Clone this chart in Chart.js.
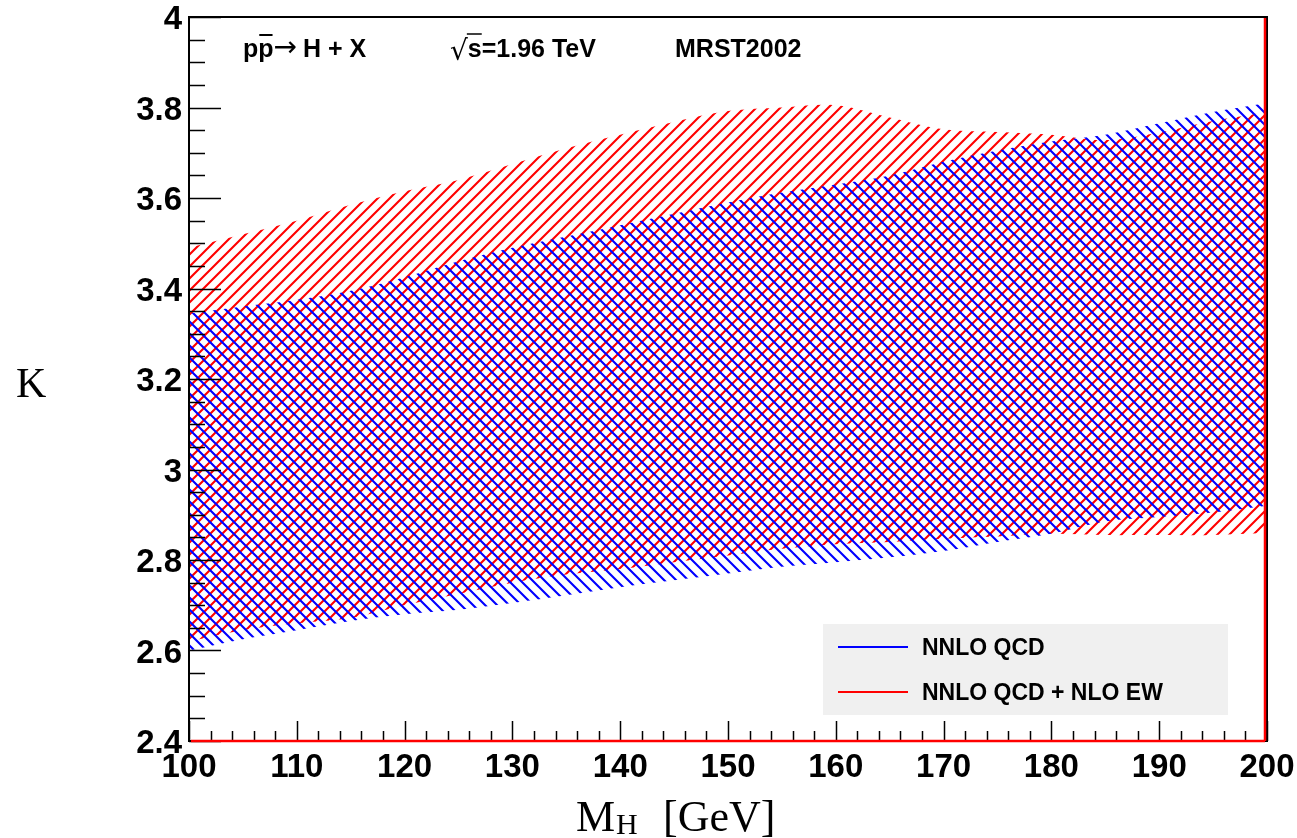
<!DOCTYPE html>
<html>
<head>
<meta charset="utf-8">
<script src="https://cdn.jsdelivr.net/npm/chart.js@4.4.1/dist/chart.umd.min.js"></script>
<style>
    body { margin: 0; background: #fff; }
    #wrap { width: 1297px; height: 838px; }
</style>
</head>
<body>
<div id="wrap"><canvas id="kFactorChart" width="1297" height="838"></canvas></div>
<script>
// K-factor bands, Tevatron
const massValues = [100, 105, 110, 115, 120, 125, 130, 135, 140, 145, 150,
    155, 160, 165, 170, 175, 180, 185, 190, 195, 200]

// NNLO QCD band (blue)
const qcdLow = [2.60, 2.625, 2.645, 2.665, 2.68, 2.69, 2.705, 2.722, 2.74, 2.755, 2.77,
    2.785, 2.795, 2.806, 2.82, 2.84, 2.858, 2.885, 2.895, 2.905, 2.92]
const qcdHigh = [3.345, 3.36, 3.375, 3.395, 3.425, 3.46, 3.49, 3.515, 3.54, 3.565, 3.59,
    3.612, 3.63, 3.65, 3.68, 3.705, 3.725, 3.74, 3.765, 3.79, 3.81]

// NNLO QCD + NLO EW band (red)
const ewLow = [2.62, 2.645, 2.66, 2.672, 2.70, 2.725, 2.75, 2.768, 2.78, 2.795, 2.81,
    2.825, 2.835, 2.84, 2.847, 2.852, 2.858, 2.855, 2.855, 2.855, 2.86]
const ewHigh = [3.49, 3.52, 3.55, 3.585, 3.615, 3.64, 3.675, 3.71, 3.74, 3.768, 3.792,
    3.80, 3.805, 3.778, 3.752, 3.746, 3.74, 3.728, 3.745, 3.77, 3.79]

const seriesNames = ['NNLO QCD', 'NNLO QCD + NLO EW']
const xTickValues = [100, 110, 120, 130, 140, 150, 160, 170, 180, 190, 200]
const yTickValues = [2.4, 2.6, 2.8, 3.0, 3.2, 3.4, 3.6, 3.8, 4.0]

const BOLD = 'bold {s}px "Liberation Sans", Arial, sans-serif'
const font = (s) => BOLD.replace('{s}', s)

function toPoints(ys) {
    return massValues.map((x, i) => ({ x: x, y: ys[i] }))
}

// hatch pattern, dir 1 = "/" , dir -1 = "\"
function hatch(color, dir) {
    const s = 12
    const c = document.createElement('canvas')
    c.width = s
    c.height = s
    const g = c.getContext('2d')
    g.strokeStyle = color
    g.lineWidth = 2.1
    g.beginPath()
    if (dir > 0) {
        g.moveTo(-2, s + 2); g.lineTo(s + 2, -2)
        g.moveTo(-2, 2); g.lineTo(2, -2)
        g.moveTo(s - 2, s + 2); g.lineTo(s + 2, s - 2)
    } else {
        g.moveTo(-2, -2); g.lineTo(s + 2, s + 2)
        g.moveTo(-2, s - 2); g.lineTo(2, s + 2)
        g.moveTo(s - 2, -2); g.lineTo(s + 2, 2)
    }
    g.stroke()
    return g.createPattern(c, 'repeat')
}

const blueHatch = hatch('#0000ff', -1)
const redHatch = hatch('#ff0000', 1)

function edge(label, ys, fill, bg) {
    return {
        label: label,
        data: toPoints(ys),
        borderWidth: 0,
        borderColor: 'rgba(0,0,0,0)',
        backgroundColor: bg || 'rgba(0,0,0,0)',
        pointRadius: 0,
        tension: 0.35,
        fill: fill
    }
}

// frame, inside ticks, texts and legend in ROOT style
const rootDecor = {
    id: 'rootDecor',
    afterDraw(chart) {
        const ctx = chart.ctx
        const { left, right, top, bottom } = chart.chartArea
        const xs = chart.scales.x
        const ys = chart.scales.y
        ctx.save()

        // frame
        ctx.strokeStyle = '#000'
        ctx.lineWidth = 2
        ctx.strokeRect(left, top, right - left, bottom - top)

        // ticks
        ctx.lineWidth = 1.5
        ctx.beginPath()
        for (let k = 0; k <= 32; k++) {
            const v = 2.4 + k * 0.05
            const py = Math.round(ys.getPixelForValue(v)) + 0.5
            ctx.moveTo(left, py)
            ctx.lineTo(left + (k % 4 === 0 ? 32 : 16), py)
        }
        for (let k = 0; k <= 50; k++) {
            const v = 100 + k * 2
            const px = Math.round(xs.getPixelForValue(v)) + 0.5
            ctx.moveTo(px, bottom)
            ctx.lineTo(px, bottom - (k % 5 === 0 ? 20 : 10))
        }
        ctx.stroke()

        // red outline along bottom and right side
        ctx.strokeStyle = '#ff0000'
        ctx.lineWidth = 2.5
        ctx.beginPath()
        ctx.moveTo(left + 2, bottom)
        ctx.lineTo(right - 2, bottom)
        ctx.moveTo(right - 2, top + 1)
        ctx.lineTo(right - 2, bottom)
        ctx.stroke()

        // process text
        ctx.fillStyle = '#000'
        ctx.textBaseline = 'alphabetic'
        ctx.textAlign = 'left'
        const base = 57
        ctx.font = font(25)
        let x = 243
        const pw = ctx.measureText('p').width
        ctx.fillText('p', x, base)
        x += pw
        ctx.fillText('p', x, base)
        ctx.lineWidth = 2
        ctx.strokeStyle = '#000'
        ctx.beginPath()
        ctx.moveTo(x + 1, base - 22)
        ctx.lineTo(x + pw - 1, base - 22)
        ctx.stroke()
        x += pw
        ctx.font = '28px "DejaVu Sans", sans-serif'
        ctx.fillText('\u2192', x, base - 1)
        x += ctx.measureText('\u2192').width + 6
        ctx.font = font(25)
        ctx.fillText('H + X', x, base)

        // sqrt(s)
        ctx.font = '28px "DejaVu Sans", sans-serif'
        ctx.fillText('\u221A', 450, base + 3)
        const rw = ctx.measureText('\u221A').width
        ctx.font = font(25)
        const sw = ctx.measureText('s').width
        ctx.fillText('s=1.96 TeV', 450 + rw, base)
        ctx.lineWidth = 1.5
        ctx.beginPath()
        ctx.moveTo(450 + rw - 1, base - 23)
        ctx.lineTo(450 + rw + sw, base - 23)
        ctx.stroke()

        ctx.fillText('MRST2002', 675, base)

        // axis titles (serif)
        ctx.font = '42px "Liberation Serif", serif'
        ctx.fillText('K', 16, 397)
        ctx.font = '44px "Liberation Serif", serif'
        ctx.fillText('M', 576, 831)
        const mw = ctx.measureText('M').width
        ctx.font = '30px "Liberation Serif", serif'
        ctx.fillText('H', 577 + mw, 834)
        ctx.font = '44px "Liberation Serif", serif'
        ctx.fillText('[GeV]', 663, 831)

        // legend
        ctx.fillStyle = '#f0f0f0'
        ctx.fillRect(823, 624, 405, 91)
        const legendColors = ['#0000ff', '#ff0000']
        const rows = [647, 692]
        ctx.lineWidth = 2
        ctx.font = font(23)
        ctx.textBaseline = 'middle'
        seriesNames.forEach((name, i) => {
            ctx.strokeStyle = legendColors[i]
            ctx.beginPath()
            ctx.moveTo(838, rows[i])
            ctx.lineTo(908, rows[i])
            ctx.stroke()
            ctx.fillStyle = '#000'
            ctx.fillText(name, 922, rows[i] + 2)
        })

        ctx.restore()
    }
}

new Chart(document.getElementById('kFactorChart'), {
    type: 'line',
    data: {
        datasets: [
            edge(seriesNames[0] + ' low', qcdLow, false),
            edge(seriesNames[0], qcdHigh, '-1', blueHatch),
            edge(seriesNames[1] + ' low', ewLow, false),
            edge(seriesNames[1], ewHigh, '-1', redHatch)
        ]
    },
    options: {
        responsive: false,
        animation: false,
        layout: { padding: { left: 0, top: 17, right: 30, bottom: 0 } },
        plugins: {
            legend: { display: false },
            tooltip: { enabled: false }
        },
        scales: {
            x: {
                type: 'linear',
                min: 100,
                max: 200,
                afterBuildTicks: (s) => { s.ticks = xTickValues.map((v) => ({ value: v })) },
                afterFit: (s) => {
                    s.height = 97
                    s.paddingLeft = 0
                    s.paddingRight = 0
                },
                grid: { display: false, drawTicks: false },
                border: { display: false },
                ticks: {
                    padding: 7,
                    color: '#000',
                    font: { family: '"Liberation Sans", Arial, sans-serif', size: 33, weight: 'bold' },
                    maxRotation: 0,
                    autoSkip: false
                }
            },
            y: {
                type: 'linear',
                min: 2.4,
                max: 4,
                afterBuildTicks: (s) => { s.ticks = yTickValues.map((v) => ({ value: v })) },
                afterFit: (s) => {
                    s.width = 189
                    s.paddingTop = 0
                    s.paddingBottom = 0
                },
                grid: { display: false, drawTicks: false },
                border: { display: false },
                ticks: {
                    padding: 7,
                    labelOffset: 3,
                    color: '#000',
                    font: { family: '"Liberation Sans", Arial, sans-serif', size: 33, weight: 'bold' },
                    autoSkip: false,
                    callback: (v) => String(+Number(v).toFixed(1))
                }
            }
        }
    },
    plugins: [rootDecor]
})
</script>
</body>
</html>
